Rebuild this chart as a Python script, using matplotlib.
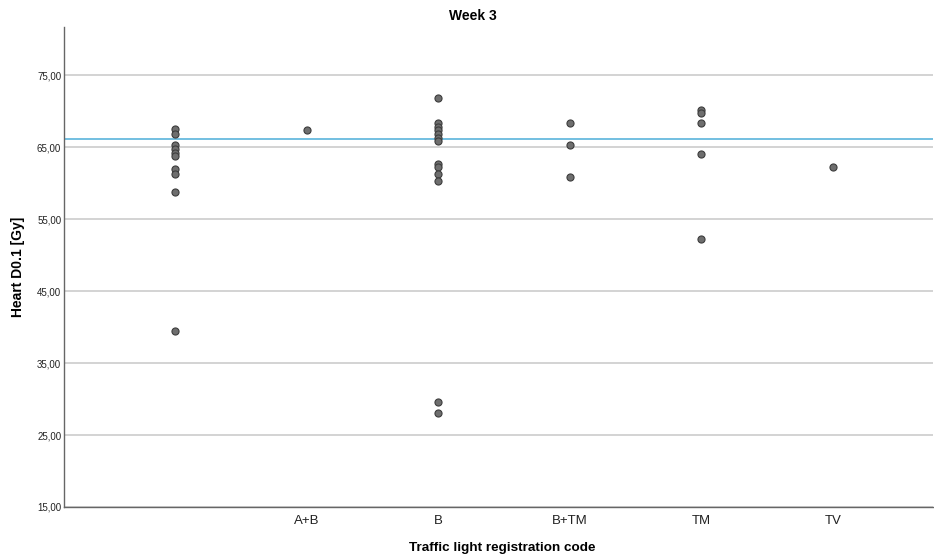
import matplotlib.pyplot as plt

plt.rcParams['font.family'] = ['Liberation Sans', 'DejaVu Sans']

categories = ["", "A+B", "B", "B+TM", "TM", "TV"]
values = {
    "": [67.5, 66.9, 65.3, 64.7, 64.2, 63.75, 61.9, 61.25, 58.75, 39.4],
    "A+B": [67.4],
    "B": [71.8, 68.3, 67.8, 67.4, 66.8, 66.3, 65.9, 62.7, 62.2, 61.25, 60.3, 29.6, 28.0],
    "B+TM": [68.4, 65.3, 60.8],
    "TM": [70.1, 69.8, 68.4, 64.0, 52.3],
    "TV": [62.3],
}
ref_line = 66.1
y_ticks = [15, 25, 35, 45, 55, 65, 75]

fig = plt.figure(figsize=(9.34, 5.56), dpi=100)
ax = fig.add_axes([64 / 934, 49 / 556, 869 / 934, 480 / 556])

for i, cat in enumerate(categories):
    ys = values[cat]
    ax.scatter([i] * len(ys), ys, s=26, color='#6e6e6e', edgecolor='#3c3c3c',
               linewidth=0.8, zorder=3)

ax.axhline(ref_line, color='#5ab4dc', linewidth=1.2, zorder=2)

ax.set_xlim(-0.845, 5.76)
ax.set_ylim(15, 81.7)
ax.set_yticks(y_ticks)
ax.set_yticklabels([f"{v:.2f}".replace('.', ',') for v in y_ticks], fontsize=7)
ax.set_xticks(range(len(categories)))
ax.set_xticklabels(categories, fontsize=9.5)
ax.tick_params(axis='both', length=0, colors='#222222')
ax.tick_params(axis='x', pad=6)
ax.tick_params(axis='y', pad=2)

ax.grid(axis='y', color='#d0d0d0', linewidth=1.3, zorder=1)
ax.set_axisbelow(True)
for s in ['top', 'right']:
    ax.spines[s].set_visible(False)
for s in ['left', 'bottom']:
    ax.spines[s].set_color('#666666')
    ax.spines[s].set_linewidth(1.0)

fig.text(473 / 934, 1 - 16 / 556, "Week 3", ha='center', va='center', fontsize=10, fontweight='bold')
fig.text(502 / 934, 1 - 548 / 556, "Traffic light registration code", ha='center', va='center',
         fontsize=9.7, fontweight='bold')
fig.text(18 / 934, 1 - 267 / 556, "Heart D0.1 [Gy]", ha='center', va='center',
         rotation=90, fontsize=10, fontweight='bold')

fig.savefig('out.png', dpi=100)
